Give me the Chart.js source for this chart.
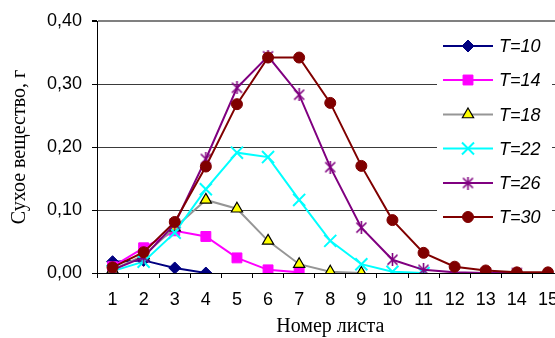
<!DOCTYPE html>
<html>
<head>
<meta charset="utf-8">
<script src="https://cdn.jsdelivr.net/npm/chart.js@4/dist/chart.umd.min.js"></script>
<style>
  html, body { margin: 0; padding: 0; background: #fff; overflow: hidden; width: 555px; height: 338px; }
  canvas { display: block; }
</style>
</head>
<body>
<canvas id="c" width="574" height="338"></canvas>
<script>
const categories = ['1','2','3','4','5','6','7','8','9','10','11','12','13','14','15'];
const seriesNames = ['T=10','T=14','T=18','T=22','T=26','T=30'];
const t10 = [0.018, 0.020, 0.008, 0.000, null, null, null, null, null, null, null, null, null, null, null];
const t14 = [0.010, 0.040, 0.067, 0.058, 0.024, 0.005, 0.001, null, null, null, null, null, null, null, null];
const t18 = [0.005, 0.028, 0.072, 0.116, 0.102, 0.051, 0.014, 0.002, 0.000, null, null, null, null, null, null];
const t22 = [0.003, 0.018, 0.064, 0.133, 0.191, 0.184, 0.116, 0.051, 0.014, 0.002, 0.000, null, null, null, null];
const t26 = [0.005, 0.025, 0.078, 0.181, 0.294, 0.344, 0.283, 0.168, 0.072, 0.021, 0.005, 0.001, 0.000, 0.000, null];
const t30 = [0.009, 0.033, 0.081, 0.169, 0.268, 0.342, 0.342, 0.270, 0.170, 0.084, 0.032, 0.010, 0.004, 0.001, 0.001];
const yTicks = [0, 0.1, 0.2, 0.3, 0.4];

// Excel-style asterisk marker (X with vertical bar)
function makeAsterisk(color) {
  const cv = document.createElement('canvas');
  cv.width = 13; cv.height = 13;
  const g = cv.getContext('2d');
  g.strokeStyle = color; g.lineWidth = 1.6;
  g.beginPath();
  g.moveTo(1.5, 1.5); g.lineTo(11.5, 11.5);
  g.moveTo(11.5, 1.5); g.lineTo(1.5, 11.5);
  g.moveTo(6.5, 0); g.lineTo(6.5, 13);
  g.stroke();
  return cv;
}
const asterisk = makeAsterisk('#800080');

function ds(label, data, color, style, radius, bg, border, bw, order) {
  return {
    label, data,
    borderColor: color, borderWidth: 2,
    pointStyle: style, pointRadius: radius, pointHoverRadius: radius,
    pointBackgroundColor: bg, pointBorderColor: border, pointBorderWidth: bw,
    tension: 0, fill: false, spanGaps: false, order
  };
}

const datasets = [
  ds(seriesNames[0], t10, '#000080', 'rectRot', 6, '#000080', '#000080', 1, 6),
  ds(seriesNames[1], t14, '#FF00FF', 'rect', 7, '#FF00FF', '#FF00FF', 1, 5),
  ds(seriesNames[2], t18, '#969696', 'triangle', 6.5, '#FFFF00', '#000000', 1.2, 4),
  ds(seriesNames[3], t22, '#00FFFF', 'crossRot', 8.5, '#00FFFF', '#00FFFF', 2, 3),
  ds(seriesNames[4], t26, '#800080', asterisk, 6, '#800080', '#800080', 1, 2),
  ds(seriesNames[5], t30, '#800000', 'circle', 5.5, '#800000', '#800000', 1, 1)
];

const legendPlugin = {
  id: 'insideLegend',
  afterDraw(chart) {
    const ctx = chart.ctx;
    ctx.save();
    ctx.fillStyle = '#ffffff';
    ctx.fillRect(437, 29, 115, 205);
    const ys = [46, 80, 114.5, 148.5, 183, 217];
    chart.data.datasets.forEach((d, i) => {
      const y = ys[i];
      ctx.strokeStyle = d.borderColor;
      ctx.lineWidth = 2;
      ctx.beginPath();
      ctx.moveTo(443, y); ctx.lineTo(493, y);
      ctx.stroke();
      ctx.fillStyle = d.pointBackgroundColor;
      ctx.strokeStyle = d.pointBorderColor;
      ctx.lineWidth = d.pointBorderWidth;
      Chart.helpers.drawPoint(ctx, {pointStyle: d.pointStyle, radius: d.pointRadius, rotation: 0, borderWidth: d.pointBorderWidth}, 468, y);
      ctx.fillStyle = '#000';
      ctx.font = 'italic 18px "Liberation Sans", Arial, sans-serif';
      ctx.textBaseline = 'middle';
      ctx.textAlign = 'left';
      ctx.fillText(d.label, 499, y + 1);
    });
    ctx.restore();
  }
};

new Chart(document.getElementById('c'), {
  type: 'line',
  data: { labels: categories, datasets },
  options: {
    responsive: false,
    animation: false,
    devicePixelRatio: 1,
    layout: { padding: { top: 21, right: 0, left: 0, bottom: 0 } },
    plugins: { legend: { display: false }, tooltip: { enabled: false } },
    scales: {
      x: {
        type: 'category',
        offset: true,
        grid: { offset: true, drawOnChartArea: false, drawTicks: true, tickLength: 5, tickColor: '#000', lineWidth: 1 },
        border: { color: '#000', width: 1 },
        ticks: { color: '#000', padding: 11, maxRotation: 0, autoSkip: false, font: { family: '"Liberation Sans", Arial, sans-serif', size: 18 } },
        title: { display: true, text: 'Номер листа', color: '#000', font: { family: '"Liberation Serif", "Times New Roman", serif', size: 20, lineHeight: 1 }, padding: { top: 0, bottom: 1 } },
        afterFit(s) { s.height = 65; }
      },
      y: {
        min: 0, max: 0.4,
        afterBuildTicks(s) { s.ticks = yTicks.map(v => ({ value: v })); },
        grid: {
          color: ctx => (ctx.tick && ctx.tick.value === 0.4) ? '#808080' : '#3a3a3a',
          lineWidth: ctx => (ctx.tick && ctx.tick.value === 0.4) ? 2 : 1,
          tickColor: '#000', tickLength: 5, drawTicks: true
        },
        border: { color: '#000', width: 1 },
        ticks: {
          color: '#000', padding: 10,
          font: { family: '"Liberation Sans", Arial, sans-serif', size: 18 },
          callback: v => Number(v).toFixed(2).replace('.', ',')
        },
        title: { display: true, text: 'Сухое вещество, г', color: '#000', font: { family: '"Liberation Serif", "Times New Roman", serif', size: 20, lineHeight: 1.2 }, padding: { top: 8, bottom: 0 } },
        afterFit(s) { s.width = 97; }
      }
    }
  },
  plugins: [legendPlugin]
});
</script>
</body>
</html>
